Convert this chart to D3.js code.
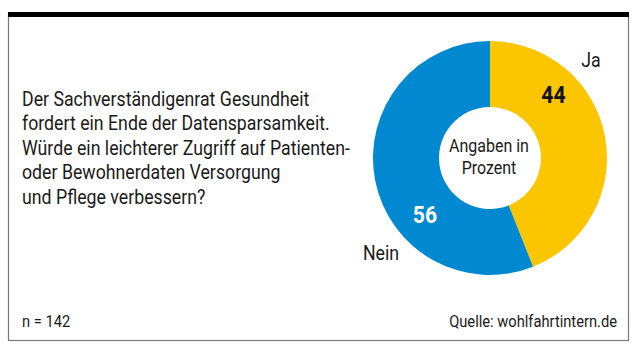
<!DOCTYPE html>
<html><head><meta charset="utf-8">
<script src="https://cdn.jsdelivr.net/npm/d3@7"></script>
<style>
html,body{margin:0;padding:0;background:#fff;}
svg text{font-family:Roboto,"Liberation Sans",sans-serif;}
</style></head>
<body>
<svg id="c" width="637" height="359"></svg>
<script>
const categories = ["Ja", "Nein"];
const values = [44, 56];
const colors = ["#fbc500", "#0088d1"];
const questionLines = [
  "Der Sachverständigenrat Gesundheit",
  "fordert ein Ende der Datensparsamkeit.",
  "Würde ein leichterer Zugriff auf Patienten-",
  "oder Bewohnerdaten Versorgung",
  "und Pflege verbessern?"
];
const centerLabel = ["Angaben in", "Prozent"];
const sampleNote = "n = 142";
const sourceNote = "Quelle: wohlfahrtintern.de";

const svg = d3.select("#c");

// condensed text helper: draw at (x,y), scaled horizontally by sx
function ctext(parent, x, y, str, opts) {
  const gg = parent.append("g").attr("transform", `translate(${x},${y}) scale(${opts.sx || 0.82},1)`);
  return gg.append("text").attr("x", 0).attr("y", 0)
    .attr("text-anchor", opts.anchor || "start")
    .attr("font-size", opts.size)
    .attr("font-weight", opts.weight || "normal")
    .attr("fill", opts.fill || "#1a1a1a")
    .text(str);
}

// frame
svg.append("rect").attr("x", 8.5).attr("y", 14).attr("width", 620).attr("height", 326.5)
  .attr("fill", "none").attr("stroke", "#777").attr("stroke-width", 1.2);
svg.append("rect").attr("x", 8).attr("y", 12).attr("width", 621).attr("height", 5).attr("fill", "#000");

// question: condensing factor so the longest line fits the reference width
const probe = svg.append("text").attr("font-size", 20.5).text(questionLines[2]);
const sx = 328 / probe.node().getComputedTextLength();
probe.remove();
questionLines.forEach((l, i) => ctext(svg, 22, 105.5 + i * 24.6, l, {size: 20.5, sx}));

// donut
const cx = 490, cy = 158, rOuter = 117, rInner = 51;
const g = svg.append("g").attr("transform", `translate(${cx},${cy})`);
const pie = d3.pie().sort(null).value(d => d.v);
const data = pie(categories.map((c, i) => ({c, v: values[i], col: colors[i]})));
const arc = d3.arc().innerRadius(rInner).outerRadius(rOuter);
g.selectAll("path").data(data).join("path").attr("d", arc).attr("fill", d => d.data.col);

// value labels
const valPos = [[63.5, -55], [-65, 65]];
data.forEach((d, i) => {
  ctext(g, valPos[i][0], valPos[i][1], d.data.v, {
    size: 23, weight: "bold", anchor: "middle", sx: 0.92,
    fill: i === 0 ? "#111" : "#fff"
  });
});

// category labels
ctext(g, 101, -91, categories[0], {size: 20.5, anchor: "middle", sx});
ctext(g, -109, 102, categories[1], {size: 20.5, anchor: "middle", sx});

// center
centerLabel.forEach((t, i) => ctext(g, -1, -6 + i * 21.5, t, {size: 18.5, anchor: "middle", sx}));

// footer
ctext(svg, 22, 327, sampleNote, {size: 17, sx});
ctext(svg, 617, 327, sourceNote, {size: 17, anchor: "end", sx});
</script>
</body></html>
